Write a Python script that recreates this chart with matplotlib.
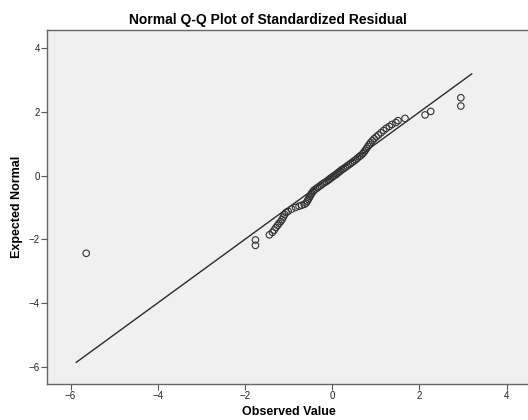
import matplotlib
matplotlib.use("Agg")
import matplotlib.pyplot as plt

# observed standardized residuals (x) vs expected normal quantiles (y)
observed = [-5.64, -1.76, -1.76, -1.44, -1.37, -1.33, -1.29, -1.25, -1.22, -1.18,
            -1.15, -1.12, -1.09, -1.06, -1.01, -0.93, -0.84, -0.76, -0.70, -0.64,
            -0.60, -0.57, -0.55, -0.53, -0.51, -0.49, -0.47, -0.44, -0.42, -0.38,
            -0.34, -0.30, -0.26, -0.22, -0.18, -0.14, -0.10, -0.07, -0.04, 0.00,
            0.03, 0.07, 0.10, 0.13, 0.16, 0.19, 0.22, 0.26, 0.30, 0.34,
            0.38, 0.42, 0.46, 0.50, 0.54, 0.58, 0.62, 0.66, 0.70, 0.73,
            0.76, 0.79, 0.82, 0.85, 0.88, 0.92, 0.96, 1.01, 1.06, 1.12,
            1.18, 1.24, 1.31, 1.37, 1.46, 1.51, 1.67, 2.13, 2.26, 2.95, 2.95]
expected = [-2.44, -2.19, -2.02, -1.86, -1.78, -1.71, -1.63, -1.56, -1.50, -1.44,
            -1.38, -1.30, -1.22, -1.16, -1.12, -1.05, -1.00, -0.96, -0.93, -0.90,
            -0.86, -0.80, -0.75, -0.70, -0.65, -0.60, -0.55, -0.50, -0.46, -0.42,
            -0.38, -0.34, -0.30, -0.26, -0.22, -0.19, -0.15, -0.12, -0.08, -0.05,
            -0.01, 0.02, 0.05, 0.09, 0.12, 0.15, 0.19, 0.22, 0.26, 0.30,
            0.34, 0.38, 0.42, 0.46, 0.50, 0.55, 0.60, 0.64, 0.69, 0.74,
            0.80, 0.86, 0.92, 0.98, 1.04, 1.10, 1.16, 1.22, 1.28, 1.35,
            1.42, 1.49, 1.55, 1.61, 1.67, 1.73, 1.80, 1.91, 2.02, 2.19, 2.45]
ref_line = [-5.87, 3.2]
ticks = [-6, -4, -2, 0, 2, 4]

plt.rcParams['font.family'] = ['Liberation Sans', 'DejaVu Sans']

fig = plt.figure(figsize=(5.28, 4.2), dpi=100)
ax = fig.add_axes([0.089, 0.0864, 0.911, 0.8422])
ax.set_facecolor('#f0f0f0')

ax.plot(ref_line, ref_line, color='#2b2b2b', linewidth=1.0)
ax.scatter(observed, expected, s=22, facecolors='none', edgecolors='#333333', linewidths=0.8, zorder=3)

ax.set_xlim(-6.54, 4.49)
ax.set_ylim(-6.54, 4.58)
ax.set_xticks(ticks)
ax.set_yticks(ticks)
ax.tick_params(labelsize=7, length=4, width=0.8, color='#555555', labelcolor='#222222', pad=1)

for s in ['left', 'bottom', 'top']:
    ax.spines[s].set_color('#666666')
    ax.spines[s].set_linewidth(1.0)
ax.spines['right'].set_visible(False)

fig.text(268/528, 1 - 20/420, 'Normal Q-Q Plot of Standardized Residual',
         ha='center', va='center', fontsize=10, fontweight='bold')
fig.text(289/528, 2/420, 'Observed Value', ha='center', va='bottom',
         fontsize=9, fontweight='bold')
fig.text(17/528, 1 - 207/420, 'Expected Normal', rotation=90,
         ha='center', va='center', fontsize=9, fontweight='bold')

fig.savefig('out.png', dpi=100)
